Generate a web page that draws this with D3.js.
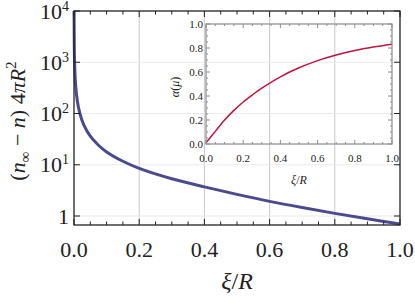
<!DOCTYPE html>
<html>
<head>
<meta charset="utf-8">
<script src="https://cdn.jsdelivr.net/npm/d3@7"></script>
<style>
  body { margin: 0; background: #fff; }
</style>
</head>
<body>
<svg id="chart" width="415" height="304" font-family="Liberation Serif"></svg>
<script>
// main curve
var xiMain = [0.0002, 0.001, 0.002, 0.005, 0.01, 0.018, 0.03, 0.05, 0.075, 0.1, 0.15, 0.2, 0.3, 0.4, 0.5, 0.6, 0.7, 0.8, 0.9, 1.0];
var densMain = [10000, 1800, 900, 360, 180, 100, 60, 36, 24, 17.8, 11.7, 8.5, 5.33, 3.7, 2.64, 1.93, 1.46, 1.125, 0.88, 0.70];

// inset curve
var xiInset = [0, 0.05, 0.1, 0.15, 0.2, 0.25, 0.3, 0.4, 0.5, 0.6, 0.7, 0.8, 0.9, 1.0];
var alphaInset = [0.01, 0.105, 0.2, 0.28, 0.35, 0.41, 0.465, 0.56, 0.635, 0.695, 0.742, 0.779, 0.808, 0.832];

var mainXTicks = [0, 0.2, 0.4, 0.6, 0.8, 1.0];
var mainYTicks = [1, 10, 100, 1000, 10000];
var insetTicks = [0, 0.2, 0.4, 0.6, 0.8, 1.0];

var serif = "Liberation Serif";

var svg = d3.select("#chart");

var x = d3.scaleLinear().domain([0, 1]).range([74, 400]);
var y = d3.scaleLog().domain([Math.pow(10, -0.1756), 10000]).range([225, 11]);

var ix = d3.scaleLinear().domain([0, 1]).range([206, 392]);
var iy = d3.scaleLinear().domain([0, 1]).range([144, 24]);

var minorX = d3.range(0, 1.0001, 0.05);

// grid
svg.append("g").selectAll("line")
    .data(mainXTicks.slice(1, -1))
  .enter().append("line")
    .attr("x1", d => x(d)).attr("x2", d => x(d))
    .attr("y1", y.range()[0]).attr("y2", y.range()[1])
    .attr("stroke", "#c8c8c8").attr("stroke-width", 1);

svg.append("g").selectAll("line")
    .data(mainYTicks.slice(0, -1))
  .enter().append("line")
    .attr("x1", x.range()[0]).attr("x2", x.range()[1])
    .attr("y1", d => y(d)).attr("y2", d => y(d))
    .attr("stroke", "#ebebeb").attr("stroke-width", 1);

// main curve
var line = d3.line()
    .x((d, i) => x(xiMain[i]))
    .y(d => y(d))
    .curve(d3.curveCatmullRom.alpha(0.5));

svg.append("path")
    .datum(densMain)
    .attr("d", line)
    .attr("fill", "none")
    .attr("stroke", "#4a4a90")
    .attr("stroke-width", 3);

// main frame + ticks
var frame = svg.append("g").attr("stroke", "#222");
frame.append("rect")
    .attr("x", x.range()[0]).attr("y", y.range()[1])
    .attr("width", x.range()[1] - x.range()[0])
    .attr("height", y.range()[0] - y.range()[1])
    .attr("fill", "none").attr("stroke-width", 1.3);

minorX.forEach(function(d) {
  var major = mainXTicks.some(t => Math.abs(t - d) < 1e-6);
  var len = major ? 6 : 3.5;
  frame.append("line").attr("x1", x(d)).attr("x2", x(d))
      .attr("y1", y.range()[0]).attr("y2", y.range()[0] - len);
  frame.append("line").attr("x1", x(d)).attr("x2", x(d))
      .attr("y1", y.range()[1]).attr("y2", y.range()[1] + len);
});
mainYTicks.forEach(function(d) {
  frame.append("line").attr("x1", x.range()[0]).attr("x2", x.range()[0] + 6)
      .attr("y1", y(d)).attr("y2", y(d));
  frame.append("line").attr("x1", x.range()[1]).attr("x2", x.range()[1] - 6)
      .attr("y1", y(d)).attr("y2", y(d));
});

// main tick labels
svg.append("g").selectAll("text")
    .data(mainXTicks)
  .enter().append("text")
    .attr("x", d => x(d))
    .attr("y", 257)
    .attr("text-anchor", "middle")
    .attr("fill", "#222")
    .attr("font-family", serif)
    .attr("font-size", 22)
    .text(d => d.toFixed(1));

var yl = svg.append("g").selectAll("text")
    .data(mainYTicks)
  .enter().append("text")
    .attr("x", 69)
    .attr("y", d => y(d) + 7.5)
    .attr("text-anchor", "end")
    .attr("fill", "#222")
    .attr("font-family", serif)
    .attr("font-size", 22);
yl.each(function(d) {
  var t = d3.select(this);
  if (d === 1) { t.text("1"); return; }
  t.append("tspan").text("10");
  t.append("tspan").attr("dy", -8).attr("font-size", 14).text(Math.round(Math.log10(d)));
});

// axis labels
svg.append("text")
    .attr("x", 237).attr("y", 289)
    .attr("text-anchor", "middle")
    .attr("fill", "#222")
    .attr("font-family", serif)
    .attr("font-size", 24)
    .html("<tspan font-style='italic'>ξ</tspan>/<tspan font-style='italic'>R</tspan>");

var ylab = svg.append("text")
    .attr("transform", "translate(25,121) rotate(-90)")
    .attr("text-anchor", "middle")
    .attr("fill", "#222")
    .attr("font-family", serif)
    .attr("font-size", 22);
ylab.append("tspan").text("(");
ylab.append("tspan").attr("font-style", "italic").text("n");
ylab.append("tspan").attr("dy", 5).attr("font-size", 15).text("∞");
ylab.append("tspan").attr("dy", -5).text(" − ");
ylab.append("tspan").attr("font-style", "italic").text("n");
ylab.append("tspan").text(") 4");
ylab.append("tspan").attr("font-style", "italic").text("πR");
ylab.append("tspan").attr("dy", -9).attr("font-size", 15).text("2");

// inset
var inset = svg.append("g");
var iline = d3.line()
    .x((d, i) => ix(xiInset[i]))
    .y(d => iy(d))
    .curve(d3.curveCatmullRom.alpha(0.5));

inset.append("path")
    .datum(alphaInset)
    .attr("d", iline)
    .attr("fill", "none")
    .attr("stroke", "#c0143c")
    .attr("stroke-width", 1.5);

var iframe = inset.append("g").attr("stroke", "#8c8c8c");
iframe.append("rect")
    .attr("x", ix.range()[0]).attr("y", iy.range()[1])
    .attr("width", ix.range()[1] - ix.range()[0])
    .attr("height", iy.range()[0] - iy.range()[1])
    .attr("fill", "none").attr("stroke-width", 1.2);

minorX.forEach(function(d) {
  var major = insetTicks.some(t => Math.abs(t - d) < 1e-6);
  var len = major ? 4 : 2;
  iframe.append("line").attr("x1", ix(d)).attr("x2", ix(d))
      .attr("y1", iy.range()[0]).attr("y2", iy.range()[0] - len);
  iframe.append("line").attr("x1", ix(d)).attr("x2", ix(d))
      .attr("y1", iy.range()[1]).attr("y2", iy.range()[1] + len);
  iframe.append("line").attr("x1", ix.range()[0]).attr("x2", ix.range()[0] + len)
      .attr("y1", iy(d)).attr("y2", iy(d));
  iframe.append("line").attr("x1", ix.range()[1]).attr("x2", ix.range()[1] - len)
      .attr("y1", iy(d)).attr("y2", iy(d));
});

inset.append("g").selectAll("text")
    .data(insetTicks)
  .enter().append("text")
    .attr("x", d => ix(d))
    .attr("y", 162)
    .attr("text-anchor", "middle")
    .attr("fill", "#222")
    .attr("font-family", serif)
    .attr("font-size", 11)
    .text(d => d.toFixed(1));

inset.append("g").selectAll("text")
    .data(insetTicks)
  .enter().append("text")
    .attr("x", 203)
    .attr("y", d => iy(d) + 4)
    .attr("text-anchor", "end")
    .attr("fill", "#222")
    .attr("font-family", serif)
    .attr("font-size", 11)
    .text(d => d.toFixed(1));

inset.append("text")
    .attr("x", 299).attr("y", 184)
    .attr("text-anchor", "middle")
    .attr("fill", "#222")
    .attr("font-family", serif)
    .attr("font-size", 12)
    .html("<tspan font-style='italic'>ξ</tspan>/<tspan font-style='italic'>R</tspan>");

inset.append("text")
    .attr("transform", "translate(179,87) rotate(-90)")
    .attr("text-anchor", "middle")
    .attr("fill", "#222")
    .attr("font-family", serif)
    .attr("font-size", 12)
    .html("<tspan font-style='italic'>α</tspan>(<tspan font-style='italic'>μ</tspan>)");
</script>
</body>
</html>
